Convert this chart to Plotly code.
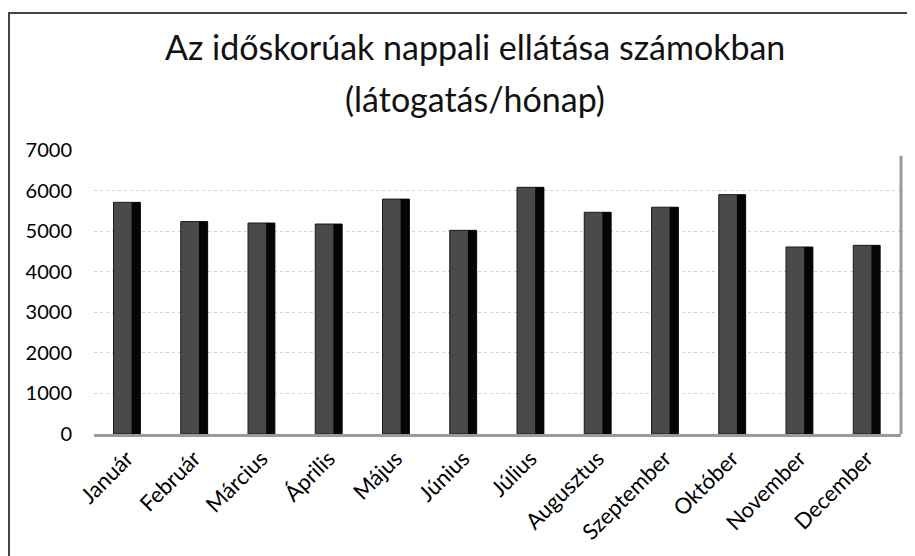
import plotly.graph_objects as go

months = ["Január", "Február", "Március", "Április", "Május", "Június",
          "Július", "Augusztus", "Szeptember", "Október", "November", "December"]
visits = [5710, 5235, 5200, 5175, 5790, 5020, 6080, 5465, 5590, 5900, 4610, 4650]
y_ticks = [0, 1000, 2000, 3000, 4000, 5000, 6000, 7000]

title_line1 = "Az időskorúak nappali ellátása számokban"
title_line2 = "(látogatás/hónap)"

FONT = "Lato"

# figure geometry (the page body adds an 8px margin)
W, H = 907, 548
ML, MR, MT, MB = 86, 14, 142, 122
PW, PH = W - ML - MR, H - MT - MB


def px(fx):
    return (fx - ML) / PW


def py(fy):
    return (H - MB - fy) / PH


fig = go.Figure()
fig.add_trace(go.Bar(
    x=months, y=visits, width=0.40, offset=-0.20,
    marker=dict(color="#4a4a4a", line=dict(color="#1a1a1a", width=1)),
    hoverinfo="x+y", showlegend=False,
))
fig.add_trace(go.Bar(
    x=months, y=visits, width=0.13, offset=0.07,
    marker=dict(color="#050505", line=dict(width=0)),
    hoverinfo="skip", showlegend=False,
))

fig.update_layout(
    width=W, height=H,
    margin=dict(l=ML, r=MR, t=MT, b=MB, autoexpand=False),
    paper_bgcolor="white", plot_bgcolor="white",
    barmode="overlay",
    font=dict(family=FONT, color="#111111"),
    annotations=[
        dict(text=title_line1, x=px(467), y=py(38), xref="paper", yref="paper",
             xanchor="center", yanchor="middle", showarrow=False,
             font=dict(size=34, family=FONT, color="#111111")),
        dict(text=title_line2, x=px(467), y=py(90), xref="paper", yref="paper",
             xanchor="center", yanchor="middle", showarrow=False,
             font=dict(size=34, family=FONT, color="#111111")),
    ],
)

fig.update_yaxes(
    range=[0, 7000], tickvals=y_ticks, ticktext=[str(v) for v in y_ticks],
    showgrid=True, gridcolor="#d2d2d2", griddash="dot", gridwidth=1,
    zeroline=False, showline=False, ticks="",
    tickfont=dict(size=20, family=FONT, color="#000000"),
    ticklabelstandoff=21,
)
fig.update_xaxes(
    showgrid=False, showline=True, linecolor="#9a9a9a", linewidth=3,
    ticks="", tickangle=-45,
    tickfont=dict(size=22, family=FONT, color="#000000"),
    range=[-0.49, 11.51],
)

# outer chart frame (left and top) and plot-area right edge
fig.add_shape(type="line", xref="paper", yref="paper",
              x0=px(1), x1=px(1), y0=py(H), y1=py(5),
              line=dict(color="#444444", width=2))
fig.add_shape(type="line", xref="paper", yref="paper",
              x0=px(0), x1=px(W), y0=py(5), y1=py(5),
              line=dict(color="#444444", width=2))
fig.add_shape(type="line", xref="x domain", yref="y domain",
              x0=1.0, x1=1.0, y0=0, y1=0.98,
              line=dict(color="#9a9a9a", width=3))

fig.write_html("out.html")
